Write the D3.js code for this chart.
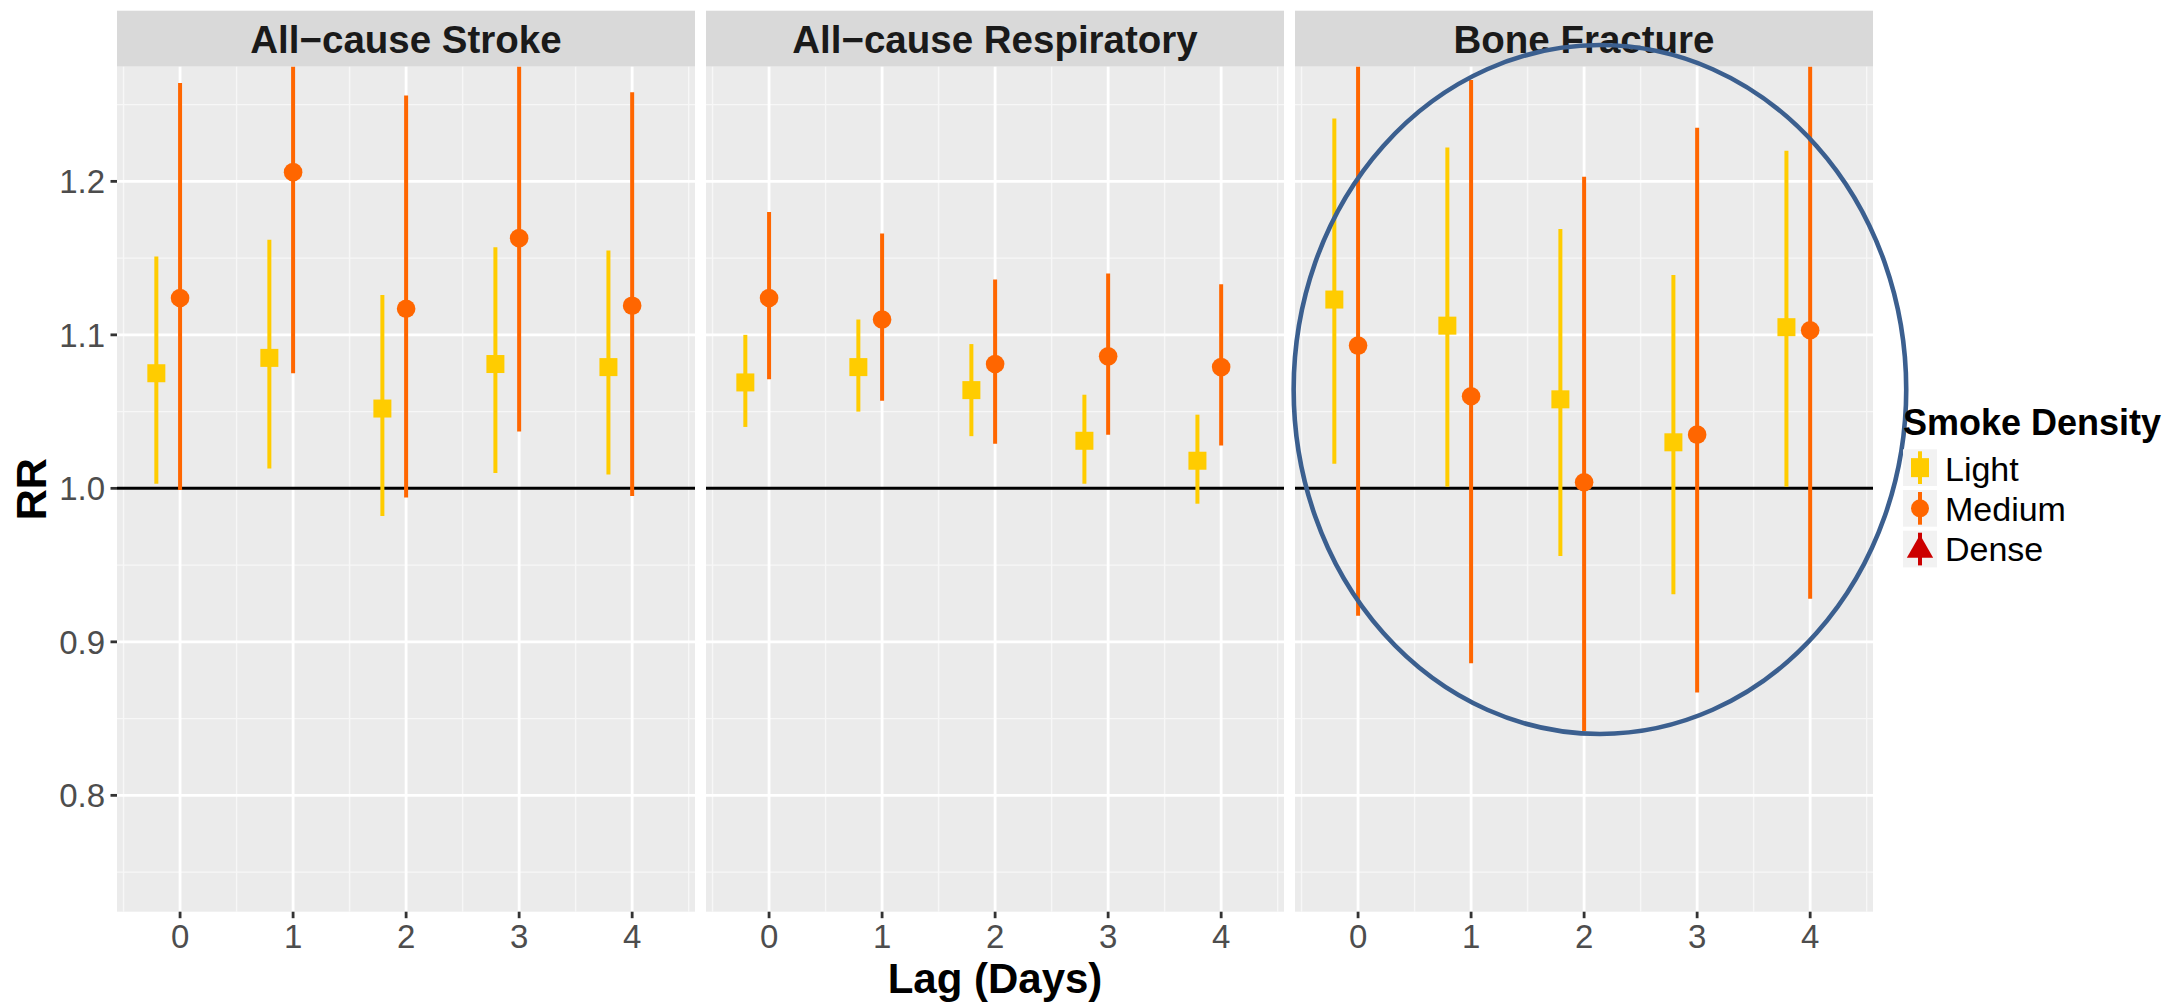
<!DOCTYPE html>
<html>
<head>
<meta charset="utf-8">
<script src="https://cdn.jsdelivr.net/npm/d3@7"></script>
<style>
  html, body { margin: 0; padding: 0; background: #fff; }
  svg { display: block; }
  text { font-family: "Liberation Sans", Arial, sans-serif; }
</style>
</head>
<body>
<svg id="chart" width="2176" height="1005"></svg>
<script>
// ---------------- DATA ----------------
const panels = ["All\u2212cause Stroke", "All\u2212cause Respiratory", "Bone Fracture"];
const lags = [0, 1, 2, 3, 4];
const seriesNames = ["Light", "Medium", "Dense"];
const seriesColors = ["#FFCC00", "#FF6600", "#CC0000"];
const yTicks = [0.8, 0.9, 1.0, 1.1, 1.2];
const yMinor = [0.75, 0.85, 0.95, 1.05, 1.15, 1.25];
const xMinor = [-0.5, 0.5, 1.5, 2.5, 3.5, 4.5];

// Light smoke density: estimate, lower, upper (per panel, per lag)
const lightEst = [
  [1.075, 1.085, 1.052, 1.081, 1.079],
  [1.069, 1.079, 1.064, 1.031, 1.018],
  [1.123, 1.106, 1.058, 1.030, 1.105]
];
const lightLo = [
  [1.003, 1.013, 0.982, 1.010, 1.009],
  [1.040, 1.050, 1.034, 1.003, 0.990],
  [1.016, 1.001, 0.956, 0.931, 1.001]
];
const lightHi = [
  [1.151, 1.162, 1.126, 1.157, 1.155],
  [1.100, 1.110, 1.094, 1.061, 1.048],
  [1.241, 1.222, 1.169, 1.139, 1.220]
];
// Medium smoke density
const mediumEst = [
  [1.124, 1.206, 1.117, 1.163, 1.119],
  [1.124, 1.110, 1.081, 1.086, 1.079],
  [1.093, 1.060, 1.004, 1.035, 1.103]
];
const mediumLo = [
  [0.999, 1.075, 0.994, 1.037, 0.995],
  [1.071, 1.057, 1.029, 1.035, 1.028],
  [0.917, 0.886, 0.842, 0.867, 0.928]
];
const mediumHi = [
  [1.264, 1.353, 1.256, 1.304, 1.258],
  [1.180, 1.166, 1.136, 1.140, 1.133],
  [1.303, 1.266, 1.203, 1.235, 1.311]
];
// Highlight ellipse annotation on "Bone Fracture" panel (data units)
const ellipseNote = { panel: 2, cx: 2.14, cy: 1.0644, rx: 2.71, ry: 0.2244 };

// ---------------- LAYOUT ----------------
const svg = d3.select("#chart");
const panelLeft = [117, 706, 1295];
const panelW = 578;
const stripTop = 10.7, plotTop = 66.7, plotBottom = 911.7;
const dodge = [-0.21, 0, 0.21];

const y = d3.scaleLinear().domain([0.7242, 1.2747]).range([plotBottom, plotTop]);

const defs = svg.append("defs");

panels.forEach((name, p) => {
  const x = d3.scaleLinear().domain([-0.558, 4.556]).range([panelLeft[p], panelLeft[p] + panelW]);
  const g = svg.append("g");

  // strip
  g.append("rect").attr("x", panelLeft[p]).attr("y", stripTop)
    .attr("width", panelW).attr("height", plotTop - stripTop).attr("fill", "#D9D9D9");
  g.append("text").attr("x", panelLeft[p] + panelW / 2).attr("y", 53)
    .attr("text-anchor", "middle").attr("font-size", 38.5).attr("font-weight", "bold")
    .attr("fill", "#1A1A1A").text(name);

  // panel background
  g.append("rect").attr("x", panelLeft[p]).attr("y", plotTop)
    .attr("width", panelW).attr("height", plotBottom - plotTop).attr("fill", "#EBEBEB");

  // minor grid
  g.selectAll(".ymin").data(yMinor).join("line")
    .attr("x1", panelLeft[p]).attr("x2", panelLeft[p] + panelW)
    .attr("y1", d => y(d)).attr("y2", d => y(d))
    .attr("stroke", "#F7F7F7").attr("stroke-width", 1.4);
  g.selectAll(".xmin").data(xMinor).join("line")
    .attr("y1", plotTop).attr("y2", plotBottom)
    .attr("x1", d => x(d)).attr("x2", d => x(d))
    .attr("stroke", "#F7F7F7").attr("stroke-width", 1.4);
  // major grid
  g.selectAll(".ymaj").data(yTicks).join("line")
    .attr("x1", panelLeft[p]).attr("x2", panelLeft[p] + panelW)
    .attr("y1", d => y(d)).attr("y2", d => y(d))
    .attr("stroke", "#FFFFFF").attr("stroke-width", 2.8);
  g.selectAll(".xmaj").data(lags).join("line")
    .attr("y1", plotTop).attr("y2", plotBottom)
    .attr("x1", d => x(d)).attr("x2", d => x(d))
    .attr("stroke", "#FFFFFF").attr("stroke-width", 2.8);

  // reference line RR = 1
  g.append("line").attr("x1", panelLeft[p]).attr("x2", panelLeft[p] + panelW)
    .attr("y1", y(1)).attr("y2", y(1)).attr("stroke", "#000").attr("stroke-width", 3);

  // clip
  defs.append("clipPath").attr("id", "clip" + p).append("rect")
    .attr("x", panelLeft[p]).attr("y", plotTop).attr("width", panelW).attr("height", plotBottom - plotTop);
  const dg = g.append("g").attr("clip-path", `url(#clip${p})`);

  const sets = [
    { est: lightEst[p], lo: lightLo[p], hi: lightHi[p], s: 0 },
    { est: mediumEst[p], lo: mediumLo[p], hi: mediumHi[p], s: 1 }
  ];
  sets.forEach(set => {
    const rows = lags.map((l, i) => ({ x: l + dodge[set.s], est: set.est[i], lo: set.lo[i], hi: set.hi[i] }));
    dg.selectAll(null).data(rows).join("line")
      .attr("x1", d => x(d.x)).attr("x2", d => x(d.x))
      .attr("y1", d => y(d.lo)).attr("y2", d => y(d.hi))
      .attr("stroke", seriesColors[set.s]).attr("stroke-width", 4);
    if (set.s === 0) {
      dg.selectAll(null).data(rows).join("rect")
        .attr("x", d => x(d.x) - 9).attr("y", d => y(d.est) - 9)
        .attr("width", 18).attr("height", 18).attr("fill", seriesColors[0]);
    } else {
      dg.selectAll(null).data(rows).join("circle")
        .attr("cx", d => x(d.x)).attr("cy", d => y(d.est)).attr("r", 9.3)
        .attr("fill", seriesColors[1]);
    }
  });

  // x axis ticks + labels
  g.selectAll(".xt").data(lags).join("line")
    .attr("x1", d => x(d)).attr("x2", d => x(d))
    .attr("y1", plotBottom).attr("y2", plotBottom + 6.5)
    .attr("stroke", "#333333").attr("stroke-width", 2.8);
  g.selectAll(".xl").data(lags).join("text")
    .attr("x", d => x(d)).attr("y", 948)
    .attr("text-anchor", "middle").attr("font-size", 33).attr("fill", "#4D4D4D")
    .text(d => d);

  if (p === ellipseNote.panel) {
    svg.append("ellipse").datum(ellipseNote)
      .attr("cx", d => x(d.cx)).attr("cy", d => y(d.cy))
      .attr("rx", d => x(d.cx + d.rx) - x(d.cx))
      .attr("ry", d => y(d.cy - d.ry) - y(d.cy))
      .attr("fill", "none").attr("stroke", "#3B5F8F").attr("stroke-width", 4.6)
      .attr("class", "note");
  }
});

// y axis
const ya = svg.append("g");
ya.selectAll("line").data(yTicks).join("line")
  .attr("x1", panelLeft[0] - 6.5).attr("x2", panelLeft[0])
  .attr("y1", d => y(d)).attr("y2", d => y(d))
  .attr("stroke", "#333333").attr("stroke-width", 2.8);
ya.selectAll("text").data(yTicks).join("text")
  .attr("x", panelLeft[0] - 12).attr("y", d => y(d)).attr("dy", "0.36em")
  .attr("text-anchor", "end").attr("font-size", 33).attr("fill", "#4D4D4D")
  .text(d => d3.format(".1f")(d));

// axis titles
svg.append("text").attr("x", (panelLeft[0] + panelLeft[2] + panelW) / 2).attr("y", 993)
  .attr("text-anchor", "middle").attr("font-size", 42).attr("font-weight", "bold")
  .attr("fill", "#000").text("Lag (Days)");
svg.append("text").attr("transform", `translate(46, ${(plotTop + plotBottom) / 2}) rotate(-90)`)
  .attr("text-anchor", "middle").attr("font-size", 43).attr("font-weight", "bold")
  .attr("fill", "#000").text("RR");

// legend
const lg = svg.append("g");
lg.append("text").attr("x", 1903).attr("y", 435).attr("font-size", 36).attr("font-weight", "bold")
  .attr("fill", "#000").text("Smoke Density");
seriesNames.forEach((s, i) => {
  const top = 449.3 + i * 40.7, kx = 1903, kw = 34, kh = 36.7;
  const cx = kx + kw / 2, cy = top + kh / 2;
  lg.append("rect").attr("x", kx).attr("y", top).attr("width", kw).attr("height", kh).attr("fill", "#F2F2F2");
  lg.append("line").attr("x1", cx).attr("x2", cx).attr("y1", top + 2).attr("y2", top + kh - 2)
    .attr("stroke", seriesColors[i]).attr("stroke-width", 4);
  if (i === 0) {
    lg.append("rect").attr("x", cx - 9).attr("y", cy - 9.5).attr("width", 18).attr("height", 19).attr("fill", seriesColors[i]);
  } else if (i === 1) {
    lg.append("circle").attr("cx", cx).attr("cy", cy).attr("r", 9).attr("fill", seriesColors[i]);
  } else {
    lg.append("path").attr("d", d3.symbol(d3.symbolTriangle, 300)()).attr("transform", `translate(${cx},${cy + 1})`)
      .attr("fill", seriesColors[i]);
  }
  lg.append("text").attr("x", 1945).attr("y", 480.7 + i * 40).attr("font-size", 34).attr("fill", "#000").text(s);
});
</script>
</body>
</html>
